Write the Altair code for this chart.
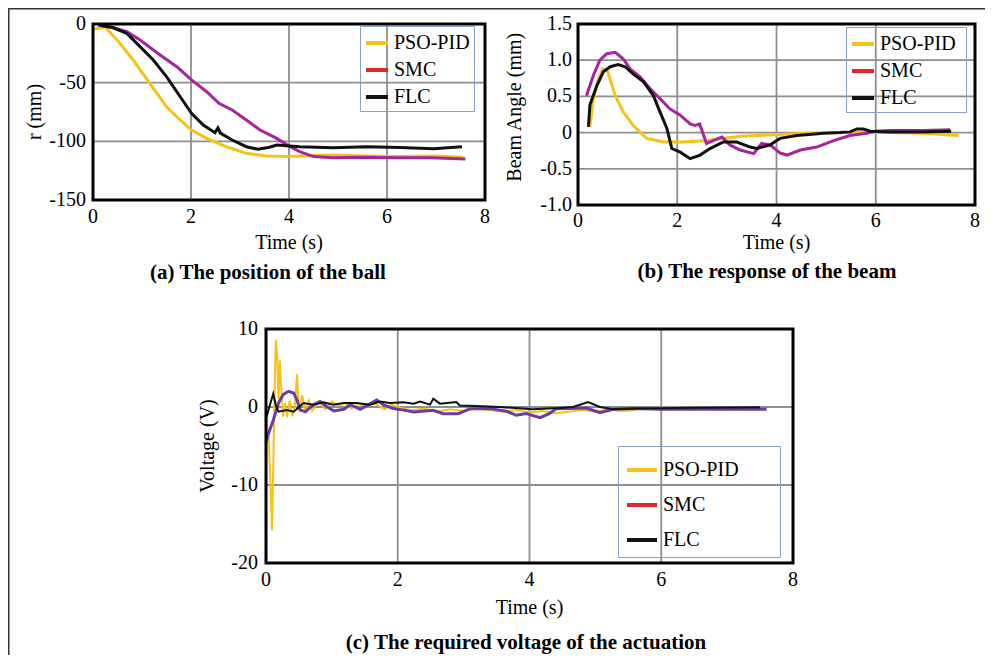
import altair as alt
import pandas as pd

FONT = "Liberation Serif"
SERIES = ["PSO-PID", "SMC", "FLC"]
LEGEND_COLORS = ["#F6C218", "#E0262B", "#111111"]
SMC_AB = "#A8239E"
SMC_C = "#6A3BA8"
GRID = "#8e8e8e"

# ---------------- (a) position of the ball ----------------
A_PSO_T = [0.0, 0.25, 0.55, 0.82, 1.16, 1.5, 1.78, 2.01, 2.32, 2.72, 3.13, 3.54, 4.0, 4.5, 4.9, 5.5, 6.27, 7.0, 7.56]
A_PSO_R = [-4.5, -2.5, -16.5, -30.7, -50.6, -70.5, -81.8, -90.4, -97.5, -104.6, -110.2, -112.5, -113.0, -112.0, -111.7, -112.5, -113.0, -112.5, -113.5]
A_SMC_T = [0.1, 0.4, 0.69, 0.96, 1.37, 1.71, 2.01, 2.32, 2.57, 2.84, 3.13, 3.41, 3.75, 4.02, 4.22, 4.5, 4.9, 5.5, 6.2, 6.9, 7.6]
A_SMC_R = [-1.0, -3.0, -6.5, -13.6, -26.4, -36.4, -47.7, -57.7, -67.6, -73.3, -81.8, -90.4, -97.5, -104.6, -108.8, -113.0, -114.0, -113.5, -114.0, -114.0, -115.0]
A_FLC_T = [0.15, 0.4, 0.69, 0.96, 1.23, 1.5, 1.78, 2.01, 2.25, 2.49, 2.55, 2.6, 2.84, 3.13, 3.37, 3.6, 3.75, 4.22, 4.9, 5.58, 6.27, 6.95, 7.53]
A_FLC_R = [-1.0, -3.0, -8.0, -19.3, -30.7, -44.9, -62.0, -76.1, -86.1, -92.6, -88.5, -93.0, -98.9, -104.6, -106.8, -105.0, -103.1, -104.6, -105.5, -104.6, -105.2, -106.3, -104.6]

# ---------------- (b) response of the beam ----------------
B_PSO_T = [0.24, 0.31, 0.41, 0.5, 0.6, 0.75, 0.91, 1.11, 1.38, 1.72, 2.12, 2.59, 3.27, 3.94, 4.61, 5.28, 6.29, 6.96, 7.67]
B_PSO_V = [0.08, 0.47, 0.74, 0.88, 0.84, 0.51, 0.29, 0.10, -0.08, -0.13, -0.13, -0.11, -0.05, -0.03, -0.01, 0.0, 0.0, -0.01, -0.04]
B_SMC_T = [0.17, 0.31, 0.44, 0.58, 0.75, 0.91, 1.05, 1.25, 1.45, 1.65, 1.85, 2.06, 2.26, 2.36, 2.45, 2.59, 2.9, 3.06, 3.27, 3.54, 3.7, 3.87, 4.07, 4.21, 4.48, 4.81, 5.15, 5.48, 5.82, 6.0, 6.29, 6.96, 7.5]
B_SMC_V = [0.51, 0.79, 1.0, 1.09, 1.11, 1.02, 0.88, 0.77, 0.61, 0.47, 0.33, 0.24, 0.12, 0.10, 0.12, -0.15, -0.06, -0.17, -0.24, -0.29, -0.15, -0.17, -0.28, -0.31, -0.24, -0.2, -0.11, -0.04, -0.01, 0.02, 0.03, 0.03, 0.04]
B_FLC_T = [0.21, 0.24, 0.38, 0.51, 0.65, 0.81, 0.95, 1.11, 1.32, 1.52, 1.65, 1.79, 1.89, 2.06, 2.26, 2.46, 2.66, 2.93, 3.2, 3.47, 3.6, 3.87, 4.07, 4.41, 4.95, 5.28, 5.48, 5.62, 5.75, 5.89, 6.29, 6.96, 7.52]
B_FLC_V = [0.08, 0.38, 0.65, 0.84, 0.91, 0.94, 0.91, 0.81, 0.70, 0.51, 0.29, 0.06, -0.22, -0.27, -0.36, -0.31, -0.22, -0.13, -0.13, -0.2, -0.22, -0.17, -0.08, -0.04, -0.01, 0.0, 0.01, 0.05, 0.05, 0.02, 0.01, 0.01, 0.02]

# ---------------- (c) required voltage ----------------
C_PSO_T = [0.0, 0.04, 0.07, 0.09, 0.11, 0.13, 0.15, 0.17, 0.19, 0.21, 0.23, 0.26, 0.29, 0.32, 0.36, 0.4, 0.44, 0.47, 0.5, 0.55, 0.6, 0.65, 0.7, 0.8, 0.9, 1.0, 1.1, 1.2, 1.3, 1.4, 1.5, 1.6, 1.7, 1.8, 1.9, 2.0, 2.2, 2.4, 2.6, 2.8, 3.0, 3.2, 3.4, 3.6, 3.8, 4.0, 4.2, 4.4, 4.6, 4.8, 5.0, 5.2, 5.4, 5.6]
C_PSO_V = [-1.0, -4.0, -10.0, -15.8, -8.0, 2.0, 8.6, 6.5, 1.0, 6.0, 2.5, -1.2, 0.5, -1.3, 0.8, -1.2, 0.2, 4.2, -0.5, 1.5, -0.8, 0.8, -0.5, 0.6, -0.3, 0.7, 0.2, 0.5, -0.2, 0.4, 0.1, 0.6, 0.2, -0.3, 0.3, 0.0, -0.4, -0.2, -0.6, -0.3, -0.5, -0.2, -0.4, -0.6, -0.4, -0.7, -0.5, -0.8, -0.6, -0.4, -0.6, -0.3, -0.5, -0.4]
C_SMC_T = [0.0, 0.03, 0.11, 0.19, 0.26, 0.34, 0.42, 0.47, 0.52, 0.6, 0.72, 0.82, 0.93, 1.03, 1.18, 1.28, 1.43, 1.58, 1.68, 1.78, 1.93, 2.09, 2.24, 2.54, 2.69, 2.92, 3.1, 3.4, 3.65, 3.8, 3.95, 4.16, 4.3, 4.41, 4.6, 4.87, 5.07, 5.27, 5.58, 6.0, 6.5, 7.0, 7.6]
C_SMC_V = [-4.5, -3.6, -1.7, 0.5, 1.6, 2.0, 1.8, 0.9, -0.4, -0.6, 0.3, 0.7, 0.0, -0.5, -0.3, 0.3, -0.3, 0.4, 0.9, 0.3, -0.2, -0.4, -0.64, -0.43, -0.85, -0.85, -0.21, -0.21, -0.55, -1.06, -0.85, -1.36, -0.85, -0.21, -0.2, -0.13, -0.72, -0.3, -0.2, -0.3, -0.25, -0.3, -0.3]
C_FLC_T = [0.0, 0.06, 0.11, 0.15, 0.19, 0.32, 0.42, 0.57, 0.72, 0.87, 1.02, 1.18, 1.38, 1.58, 1.73, 1.88, 2.09, 2.24, 2.34, 2.49, 2.54, 2.64, 2.89, 2.94, 3.19, 3.54, 4.05, 4.45, 4.66, 4.89, 5.07, 5.27, 5.58, 6.0, 6.5, 7.0, 7.5]
C_FLC_V = [-1.5, 0.3, 1.7, 0.2, -0.6, -0.4, -0.6, 0.5, 0.3, 0.6, 0.3, 0.5, 0.5, 0.3, 0.7, 0.5, 0.6, 0.43, 0.7, 0.3, 1.07, 0.43, 0.64, 0.2, 0.13, 0.0, -0.3, -0.13, 0.0, 0.64, 0.0, -0.3, -0.2, -0.15, -0.1, -0.08, -0.04]

X_TICKS = [0, 2, 4, 6, 8]
X_TICK_LABELS = ["0", "2", "4", "6", "8"]
A_TICKS = [0, -50, -100, -150]
A_TICK_LABELS = ["0", "-50", "-100", "-150"]
B_TICKS = [1.5, 1.0, 0.5, 0, -0.5, -1.0]
B_TICK_LABELS = ["1.5", "1.0", "0.5", "0", "-0.5", "-1.0"]
C_TICKS = [10, 0, -10, -20]
C_TICK_LABELS = ["10", "0", "-10", "-20"]

W, H = 977, 647  # whole figure (page minus the 8px margins)

# layout of each panel, in pixels of the figure
LAYOUT = {
    "a": dict(xr=[85, 477], yr=[192, 16], ylab_x=78, xlab_y=209, xtitle_y=235,
              ytitle_x=27, ytitle_at=0.5, title_x=260, title_y=265, lx=352, ly=18, sym=22,
              pad=4, rowpad=4, extra=0, widths=[3, 3, 3], smc=SMC_AB),
    "b": dict(xr=[570, 967], yr=[197, 16], ylab_x=564, xlab_y=213, xtitle_y=235,
              ytitle_x=507, ytitle_at=0.46, title_x=759, title_y=264, lx=838, ly=19, sym=22,
              pad=4, rowpad=4, extra=5, widths=[3, 3, 3], smc=SMC_AB),
    "c": dict(xr=[258, 785], yr=[555, 321], ylab_x=250, xlab_y=572, xtitle_y=600,
              ytitle_x=200, ytitle_at=0.5, title_x=518, title_y=635, lx=610, ly=438, sym=30,
              pad=7, rowpad=8, extra=32, widths=[2, 3, 2], smc=SMC_C),
}


def series_frame(t, v, name):
    return pd.DataFrame({"t": t, "v": v, "series": name})


def text(df, x, y, size=20, weight="normal", **kw):
    return alt.Chart(df).mark_text(font=FONT, fontSize=size, fontWeight=weight,
                                   color="black", **kw).encode(x=x, y=y, text="label:N")


def panel(key, ydom, yticks, ylabels, ytitle, title, pso, smc, flc):
    L = LAYOUT[key]
    xs = alt.Scale(domain=[0, 8], range=L["xr"], nice=False, zero=False)
    ys = alt.Scale(domain=ydom, range=L["yr"], nice=False, zero=False)
    layers = []
    # grid
    vg = pd.DataFrame({"t": X_TICKS, "y0": ydom[0], "y1": ydom[1]})
    layers.append(alt.Chart(vg).mark_rule(color=GRID, strokeWidth=1.8).encode(
        x=alt.X("t:Q", scale=xs, axis=None), y=alt.Y("y0:Q", scale=ys, axis=None), y2="y1:Q"))
    hg = pd.DataFrame({"v": yticks, "x0": 0, "x1": 8})
    layers.append(alt.Chart(hg).mark_rule(color=GRID, strokeWidth=1.8).encode(
        y=alt.Y("v:Q", scale=ys, axis=None), x=alt.X("x0:Q", scale=xs, axis=None), x2="x1:Q"))
    # series
    leg = dict(title=None, orient="none", legendX=L["lx"], legendY=L["ly"],
               direction="vertical", symbolType="stroke",
               symbolSize=L["sym"] ** 2, symbolStrokeWidth=4,
               labelFont=FONT, labelFontSize=20, labelColor="black",
               labelOffset=4, padding=L["pad"], rowPadding=L["rowpad"],
               strokeColor="#86A3C6")
    if L["extra"]:
        # an invisible title on the right widens the legend frame like the original
        leg.update(title="M", titleOrient="right", titleFont=FONT,
                   titleFontSize=round(L["extra"] / 0.889, 1), titleColor="transparent",
                   titlePadding=0)
    legend = alt.Legend(**leg)
    cscale = alt.Scale(domain=SERIES, range=LEGEND_COLORS)
    line_x = alt.X("t:Q", scale=xs, axis=None)
    line_y = alt.Y("v:Q", scale=ys, axis=None)
    layers.append(alt.Chart(pso).mark_line(strokeWidth=L["widths"][0]).encode(
        x=line_x, y=line_y, color=alt.Color("series:N", scale=cscale, legend=legend)))
    layers.append(alt.Chart(smc).mark_line(strokeWidth=L["widths"][1], color=L["smc"]).encode(
        x=line_x, y=line_y))
    layers.append(alt.Chart(flc).mark_line(strokeWidth=L["widths"][2]).encode(
        x=line_x, y=line_y, color=alt.Color("series:N", scale=cscale, legend=None)))
    # plot border
    box = pd.DataFrame({"x0": [0], "x1": [8], "y0": [ydom[0]], "y1": [ydom[1]]})
    layers.append(alt.Chart(box).mark_rect(fillOpacity=0, stroke="black", strokeWidth=3).encode(
        x=alt.X("x0:Q", scale=xs, axis=None), x2="x1:Q",
        y=alt.Y("y0:Q", scale=ys, axis=None), y2="y1:Q"))
    # tick labels
    layers.append(text(pd.DataFrame({"t": X_TICKS, "label": X_TICK_LABELS}),
                       alt.X("t:Q", scale=xs, axis=None), alt.value(L["xlab_y"]),
                       align="center", baseline="middle"))
    layers.append(text(pd.DataFrame({"v": yticks, "label": ylabels}),
                       alt.value(L["ylab_x"]), alt.Y("v:Q", scale=ys, axis=None),
                       align="right", baseline="middle"))
    # axis titles
    layers.append(text(pd.DataFrame({"t": [4], "label": ["Time (s)"]}),
                       alt.X("t:Q", scale=xs, axis=None), alt.value(L["xtitle_y"]),
                       align="center", baseline="middle"))
    ymid = L["yr"][0] + (L["yr"][1] - L["yr"][0]) * (1 - L["ytitle_at"])
    layers.append(text(pd.DataFrame({"label": [ytitle]}),
                       alt.value(L["ytitle_x"]), alt.value(ymid),
                       align="center", baseline="middle", angle=270))
    # panel caption
    layers.append(text(pd.DataFrame({"label": [title]}), alt.value(L["title_x"]),
                       alt.value(L["title_y"]), size=21, weight="bold",
                       align="center", baseline="middle"))
    return layers


layers = []
layers += panel("a", [-150, 0], A_TICKS, A_TICK_LABELS, "r (mm)",
                "(a) The position of the ball",
                series_frame(A_PSO_T, A_PSO_R, "PSO-PID"), series_frame(A_SMC_T, A_SMC_R, "SMC"),
                series_frame(A_FLC_T, A_FLC_R, "FLC"))
layers += panel("b", [-1.0, 1.5], B_TICKS, B_TICK_LABELS, "Beam Angle (mm)",
                "(b) The response of the beam",
                series_frame(B_PSO_T, B_PSO_V, "PSO-PID"), series_frame(B_SMC_T, B_SMC_V, "SMC"),
                series_frame(B_FLC_T, B_FLC_V, "FLC"))
layers += panel("c", [-20, 10], C_TICKS, C_TICK_LABELS, "Voltage (V)",
                "(c) The required voltage of the actuation",
                series_frame(C_PSO_T, C_PSO_V, "PSO-PID"), series_frame(C_SMC_T, C_SMC_V, "SMC"),
                series_frame(C_FLC_T, C_FLC_V, "FLC"))

# figure frame (top and left edges)
one = pd.DataFrame({"k": [1]})
layers.append(alt.Chart(one).mark_rule(color="#333333", strokeWidth=1.5).encode(
    x=alt.value(0.75), y=alt.value(0), y2=alt.value(H)))
layers.append(alt.Chart(one).mark_rule(color="#333333", strokeWidth=1.5).encode(
    x=alt.value(0), x2=alt.value(W), y=alt.value(0.75)))

chart = alt.layer(*layers).resolve_scale(
    x="independent", y="independent", color="independent"
).resolve_legend(color="independent").properties(
    width=W, height=H, autosize="none", padding=0
).configure_view(stroke=None)

chart.save("out.html", embed_options={"renderer": "svg", "actions": False})
